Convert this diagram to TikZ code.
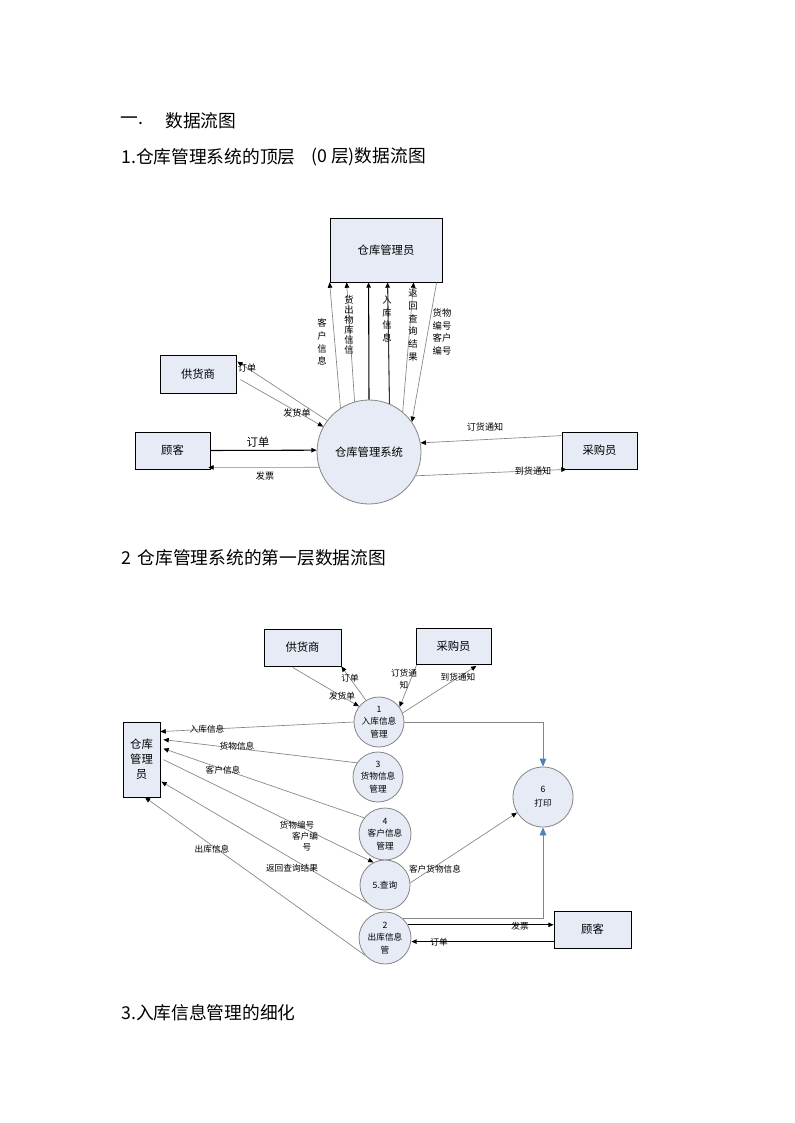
\documentclass[tikz,border=0pt]{standalone}
\usepackage{fontspec}
\setmainfont{Noto Sans CJK SC}
\usetikzlibrary{arrows.meta,calc}
\definecolor{boxfill}{HTML}{E6EBF5}
\definecolor{linegray}{HTML}{858585}
\definecolor{arrowblue}{HTML}{4F81BD}
\definecolor{blueline}{HTML}{7D93B3}
\begin{document}
\begin{tikzpicture}[x=0.75pt,y=-0.75pt,
  ent/.style={draw=black,line width=0.6pt,fill=boxfill,inner sep=0pt,align=center,font=\fontsize{8.5}{11.3}\selectfont},
  proc/.style={circle,draw=linegray,line width=0.6pt,fill=boxfill,inner sep=0pt,align=center,font=\fontsize{6.5}{9.4}\selectfont},
  tip/.style={-{Triangle[length=4pt,width=3.4pt,color=black]}},
  flow/.style={draw=linegray,line width=0.5pt,tip},
  bflow/.style={draw=black,line width=0.8pt,tip},
  pflow/.style={draw=blueline,line width=0.6pt,-{Triangle[length=6pt,width=5pt,color=arrowblue]}},
  lbl/.style={inner sep=0pt,align=center,font=\fontsize{6.8}{8.5}\selectfont},
  vlbl/.style={inner sep=0pt,align=center,font=\fontsize{7}{9.6}\selectfont},
  head/.style={anchor=west,inner sep=0pt,font=\fontsize{13.3}{16}\selectfont},
]
\useasboundingbox (0,0) rectangle (794,1123);
\fill[white] (0,0) rectangle (794,1123);

% headings
\node[head] (h0a) at (120,121) {一.};
\node[head] (h0b) at (165,121) {数据流图};
\node[head] (h1a) at (121,157) {1.仓库管理系统的顶层};
\node[head] (h1b) at (311,157) {(0 层)数据流图};
\node[head] (h2) at (121,558) {2\hspace{5pt}仓库管理系统的第一层数据流图};
\node[head] (h3) at (121,1013) {3.入库信息管理的细化};

% ---------------- diagram 1 ----------------
\node[ent,minimum width=84pt,minimum height=48pt] (M) at (386,250) {仓库管理员};
\node[ent,minimum width=57pt,minimum height=28.5pt] (S1) at (198,374) {供货商};
\node[ent,minimum width=56.25pt,minimum height=27.75pt] (G1) at (172.5,450.5) {顾客};
\node[ent,minimum width=56.25pt,minimum height=27.75pt] (P1) at (599.5,450.5) {采购员};
\node[proc,minimum size=78pt,font=\fontsize{8.5}{11}\selectfont] (C) at (369,452) {仓库管理系统};

\draw[flow] (C.123) -- (M.south west);
\draw[flow] (C.106) -- ($(M.south west)+(17,0)$);
\draw[bflow] (C.90) -- ($(M.south west)+(39,0)$);
\draw[bflow,draw=black!80] (C.67) -- ($(M.south west)+(58,0)$);
\draw[flow] (C.50) -- ($(M.south west)+(84,0)$);
\draw[flow] ($(M.south west)+(107,0)$) -- (C.35);

\node[vlbl] (l1) at (322,342) {客\\户\\信\\息};
\node[vlbl,font=\fontsize{7}{7.5}\selectfont] (l2) at (349,325) {货\\出\\物\\库\\信\\信};
\node[vlbl] (l3) at (387,319) {入\\库\\信\\息};
\node[vlbl] (l4) at (413,325) {返\\回\\查\\询\\结\\果};
\node[vlbl] (l5) at (442,332) {货物\\编号\\客户\\编号};

\draw[flow] (C.143) -- ($(S1.north east)+(1,7)$);
\draw[flow] ($(S1.north east)+(4,25)$) -- (C.151);
\draw[bflow] (G1.east) -- (C.178);
\draw[flow] (C.197) -- ($(G1.south east)+(-2,-2)$);
\draw[flow] ($(P1.north west)+(0,4)$) -- (C.10);
\draw[flow] (C.-27) -- ($(P1.south west)+(5,0)$);

\node[lbl] (l6) at (247,368) {订单};
\node[lbl] (l7) at (297,413) {发货单};
\node[lbl,font=\fontsize{8.5}{10}\selectfont] (l8) at (258,442) {订单};
\node[lbl] (l9) at (265,476) {发票};
\node[lbl] (l10) at (485,427) {订货通知};
\node[lbl] (l11) at (533,471) {到货通知};

% ---------------- diagram 2 ----------------
\node[ent,minimum width=57.75pt,minimum height=27.75pt] (S2) at (302.5,647.5) {供货商};
\node[ent,minimum width=56.25pt,minimum height=27pt] (P2) at (453.5,646.5) {采购员};
\node[ent,minimum width=27.75pt,minimum height=56.25pt] (M2) at (141.5,759.5) {仓库\\管理\\员};
\node[ent,minimum width=57.75pt,minimum height=27.75pt] (G2) at (592.5,929.5) {顾客};

\node[proc,minimum size=37.5pt] (K1) at (379,722) {1\\入库信息\\管理};
\node[proc,minimum size=37.5pt] (K3) at (378,777) {3\\货物信息\\管理};
\node[proc,minimum size=39pt] (K4) at (385,834) {4\\客户信息\\管理};
\node[proc,minimum size=37.5pt] (K5) at (385,885) {5.查询};
\node[proc,minimum size=39pt] (K2) at (385,938) {2\\出库信息\\管};
\node[proc,minimum size=45pt,font=\fontsize{6.5}{10.5}\selectfont] (K6) at (543,797) {6\\打印};

\draw[flow] (K1.121) -- (S2.south east);
\draw[flow] ($(S2.south west)+(29,1)$) -- (K1.142);
\draw[flow] ($(P2.south west)+(1,0)$) -- (K1.36);
\draw[flow] (K1.21) -- ($(P2.south east)+(-15,1)$);

\draw[pflow,draw=linegray] (K1.east) -| (K6.north);
\draw[pflow,draw=linegray] (K2.47) -| (K6.south);

\coordinate (fp) at ($(G2.north west)+(0,14)$);
\coordinate (dd) at ($(G2.north west)+(0,31)$);
\draw[bflow] (K2.30) -- (K2.30 -| fp);
\draw[bflow] (dd) -- (dd -| K2.east);
\draw[flow] (K5.5) -- (K6.211);

\draw[flow] (K1.180) -- ($(M2.north east)+(0,10)$);
\draw[flow] (K3.146) -- ($(M2.north east)+(3,18)$);
\draw[flow] (K4.142) -- ($(M2.north east)+(3,27)$);
\draw[flow] ($(M2.north east)+(3,38)$) -- (K5.117);
\draw[flow] (K5.225) -- ($(M2.north east)+(1,60)$);
\draw[flow] (K2.221) -- ($(M2.south)+(3.5,0)$);

\node[lbl,font=\fontsize{6.5}{8}\selectfont] (m1) at (350,678) {订单};
\node[lbl,font=\fontsize{6.5}{8}\selectfont] (m2) at (342,696) {发货单};
\node[lbl,font=\fontsize{6.5}{9}\selectfont] (m3) at (404,679) {订货通\\知};
\node[lbl,font=\fontsize{6.5}{8}\selectfont] (m4) at (458,677) {到货通知};
\node[lbl,font=\fontsize{6.5}{8}\selectfont] (m5) at (207,729) {入库信息};
\node[lbl,font=\fontsize{6.5}{8}\selectfont] (m6) at (237,746) {货物信息};
\node[lbl,font=\fontsize{6.5}{8}\selectfont] (m7) at (223,770) {客户信息};
\node[lbl,font=\fontsize{6.5}{8}\selectfont] (m8) at (297,825) {货物编号};
\node[lbl,font=\fontsize{6.5}{8}\selectfont] (m9) at (305,836) {客户编};
\node[lbl,font=\fontsize{6.5}{8}\selectfont] (m10) at (307,847) {号};
\node[lbl,font=\fontsize{6.5}{8}\selectfont] (m11) at (292,868) {返回查询结果};
\node[lbl,font=\fontsize{6.5}{8}\selectfont] (m12) at (212,849) {出库信息};
\node[lbl,font=\fontsize{6.5}{8}\selectfont] (m13) at (435,869) {客户货物信息};
\node[lbl,font=\fontsize{6.5}{8}\selectfont] (m14) at (520,926) {发票};
\node[lbl,font=\fontsize{6.5}{8}\selectfont] (m15) at (439,942) {订单};
\end{tikzpicture}
\end{document}
